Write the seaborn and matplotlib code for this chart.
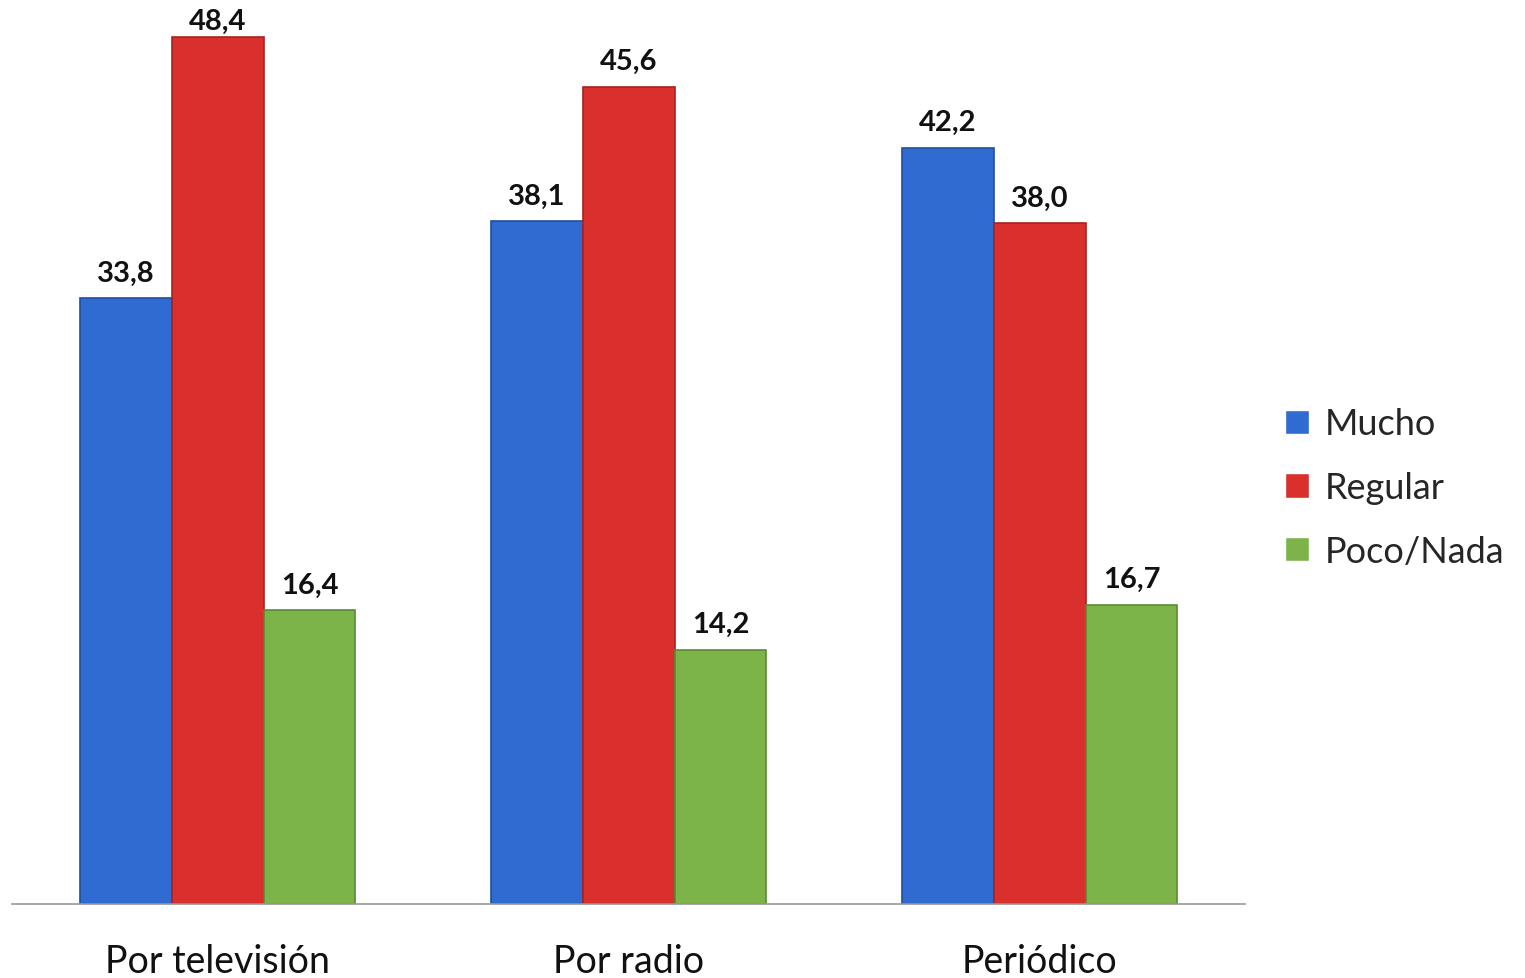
import matplotlib
matplotlib.use("Agg")
import matplotlib.pyplot as plt
import seaborn as sns
import pandas as pd

# --------------------------------------------------
# Data
# --------------------------------------------------
categories = ["Por televisión", "Por radio", "Periódico"]
series = ["Mucho", "Regular", "Poco/Nada"]
mucho = [33.8, 38.1, 42.2]
regular = [48.4, 45.6, 38.0]
poco_nada = [16.4, 14.2, 16.7]

colors = ["#2f6bd0", "#d9302d", "#7db44a"]
edges = ["#1f4f9e", "#a82220", "#5a8a32"]

df = pd.DataFrame({
    "categoria": categories * 3,
    "serie": [s for s in series for _ in categories],
    "valor": mucho + regular + poco_nada,
})

sns.set_theme(style="white")
plt.rcParams["font.family"] = ["Lato", "DejaVu Sans"]

fig = plt.figure(figsize=(15.25, 9.79), dpi=100)
ax = fig.add_axes([0.008, 0.0756, 0.8086, 0.9244])

sns.barplot(
    data=df, x="categoria", y="valor", hue="serie",
    order=categories, hue_order=series,
    palette=colors, width=0.67, saturation=1, ax=ax,
)

for container, ec in zip(ax.containers, edges):
    for bar in container:
        bar.set_edgecolor(ec)
        bar.set_linewidth(1.2)
    anns = ax.bar_label(
        container,
        labels=[f"{v:.1f}".replace(".", ",") for v in container.datavalues],
        padding=9, fontsize=21, fontweight="bold", color="#111111",
    )
    # the tallest label sits close to the top edge, as in the original
    for ann, v in zip(anns, container.datavalues):
        if v > 47:
            ann.xyann = (0, 2)

ax.set_xlim(-0.5, 2.5)
ax.set_ylim(0, 50.5)
ax.set_xlabel("")
ax.set_ylabel("")
ax.set_yticks([])
ax.tick_params(axis="x", labelsize=27, pad=28, length=0, colors="#111111")
for side in ["top", "right", "left"]:
    ax.spines[side].set_visible(False)
ax.spines["bottom"].set_color("#999999")
ax.spines["bottom"].set_linewidth(1.2)

ax.legend(
    loc="center left", bbox_to_anchor=(1.012, 0.46),
    frameon=False, fontsize=26, handlelength=0.65, handleheight=0.65,
    handletextpad=0.45, labelspacing=0.85, borderpad=0.2,
)

fig.savefig("out.png", dpi=100)
